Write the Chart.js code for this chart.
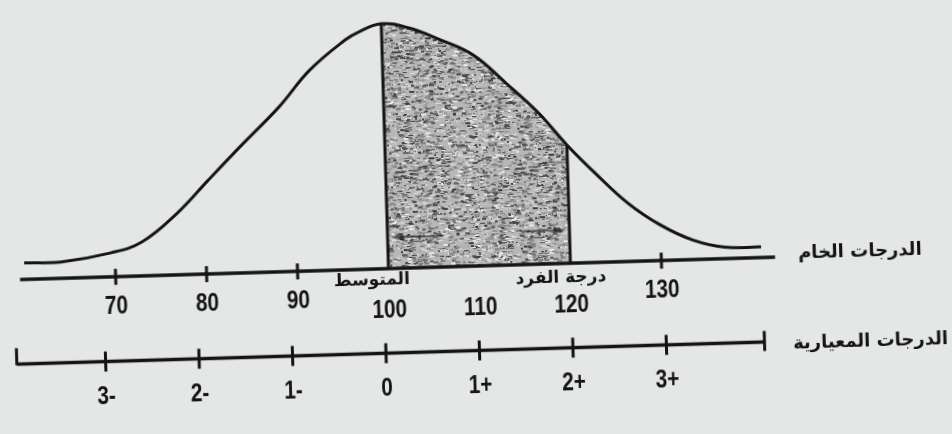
<!DOCTYPE html>
<html lang="ar">
<head>
<meta charset="utf-8">
<title>المنحنى الاعتدالي</title>
<script src="https://cdn.jsdelivr.net/npm/chart.js@4.4.1/dist/chart.umd.min.js"></script>
<style>
  html, body { margin: 0; padding: 0; background: #e4e7e6; overflow: hidden; }
  /* the scanned page sits a little askew */
  #curve-chart { display: block; transform: rotate(-1.7deg); }
</style>
</head>
<body>
<canvas id="curve-chart" width="952" height="434"></canvas>
<script>
// raw scores along the drawn curve and its height there (% of the peak)
const rawScores = [60, 64, 69.5, 73, 77, 80.5, 84.5, 88.5, 92, 96, 97.5, 100, 103, 106.5, 110, 113.5, 117, 120, 123, 126.5, 130, 133.5, 137, 141];
const curveHeight = [2.8, 2.7, 5.9, 10.2, 22.1, 35.7, 51.0, 65.9, 81.2, 93.6, 96.8, 100, 97.9, 92.3, 85.5, 73.2, 60.0, 46.1, 33.8, 20.6, 10.9, 4.1, 0.6, 0.3];

const rawTicks = [70, 80, 90, 100, 110, 120, 130];
const rawTickLabels = ['70', '80', '90', '100', '110', '120', '130'];
const zTicks = [-3, -2, -1, 0, 1, 2, 3];
const zTickLabels = ['3-', '2-', '1-', '0', '1+', '2+', '3+'];

const meanScore = 100;
const studentScore = 120;

const rawAxisTitle = 'الدرجات الخام';
const zAxisTitle = 'الدرجات المعيارية';
const meanLabel = 'المتوسط';
const studentLabel = 'درجة الفرد';

// drawing constants
const INK = '#141414';
const PAPER = '#e4e7e6';
const RAW_AXIS_Y = -4.3;     // in curve-height units
const Z_AXIS_Y = -40.2;
const NUM_FONT = "bold 26px 'Liberation Sans', Arial, sans-serif";
const AR_FONT = "bold 18px 'DejaVu Sans', sans-serif";

const el = document.getElementById('curve-chart');
const ctx0 = el.getContext('2d');

// grainy grey like the printed screen tone
function speckle() {
  const c = document.createElement('canvas');
  c.width = 120; c.height = 120;
  const g = c.getContext('2d');
  g.fillStyle = '#b6b7b6';
  g.fillRect(0, 0, 120, 120);
  let seed = 11;
  const next = () => (seed = (seed * 16807) % 2147483647) / 2147483647;
  for (let i = 0; i < 2400; i++) {
    const v = Math.floor(60 + next() * 180);
    g.fillStyle = 'rgb(' + v + ',' + v + ',' + v + ')';
    g.fillRect(Math.floor(next() * 120), Math.floor(next() * 120), 2 + Math.floor(next() * 4), 1 + Math.floor(next() * 2));
  }
  return ctx0.createPattern(c, 'repeat');
}

const curvePts = rawScores.map((x, i) => ({ x, y: curveHeight[i] }));
const shadePts = curvePts.filter(p => p.x >= meanScore && p.x <= studentScore);
const heightAt = v => curveHeight[rawScores.indexOf(v)];

function arrowHead(ctx, x, y, dir) {
  ctx.beginPath();
  ctx.moveTo(x, y);
  ctx.lineTo(x - dir * 12, y - 4);
  ctx.lineTo(x - dir * 12, y + 4);
  ctx.closePath();
  ctx.fill();
}

// condensed numerals, like the printed figure
function numText(ctx, s, px, py) {
  ctx.save();
  ctx.translate(px, py);
  ctx.scale(0.8, 1);
  ctx.fillText(s, 0, 0);
  ctx.restore();
}

const sketchAxes = {
  id: 'sketchAxes',
  beforeDraw(chart) {
    const { ctx, width, height } = chart;
    ctx.save();
    ctx.fillStyle = PAPER;
    ctx.fillRect(0, 0, width, height);
    ctx.restore();
  },
  afterDatasetsDraw(chart) {
    const { ctx } = chart;
    const x = chart.scales.x, y = chart.scales.y, xz = chart.scales.xz;
    const rawY = y.getPixelForValue(RAW_AXIS_Y);
    const zY = y.getPixelForValue(Z_AXIS_Y);
    ctx.save();
    ctx.strokeStyle = INK;
    ctx.fillStyle = INK;

    // faint arrow across the shaded part
    ctx.save();
    ctx.strokeStyle = 'rgba(30,30,30,0.65)';
    ctx.fillStyle = 'rgba(30,30,30,0.65)';
    ctx.lineWidth = 2;
    const ay = y.getPixelForValue(9);
    const a0 = x.getPixelForValue(meanScore) + 4, a1 = x.getPixelForValue(studentScore) - 4;
    ctx.beginPath(); ctx.moveTo(a0 + 8, ay); ctx.lineTo(a0 + 52, ay); ctx.stroke();
    ctx.beginPath(); ctx.moveTo(a1 - 44, ay - 2); ctx.lineTo(a1 - 8, ay - 2); ctx.stroke();
    arrowHead(ctx, a0, ay, -1);
    arrowHead(ctx, a1, ay - 2, 1);
    ctx.restore();

    // edges of the shaded area
    ctx.lineWidth = 3;
    [meanScore, studentScore].forEach(v => {
      const px = x.getPixelForValue(v);
      ctx.beginPath();
      ctx.moveTo(px, y.getPixelForValue(heightAt(v)));
      ctx.lineTo(px, rawY);
      ctx.stroke();
    });

    // raw score axis
    const rawL = x.getPixelForValue(59.5), rawR = x.getPixelForValue(142.5);
    ctx.lineWidth = 3.5;
    ctx.beginPath(); ctx.moveTo(rawL, rawY); ctx.lineTo(rawR, rawY); ctx.stroke();
    ctx.lineWidth = 3;
    ctx.font = NUM_FONT;
    ctx.textAlign = 'center';
    ctx.textBaseline = 'middle';
    rawTicks.forEach((v, i) => {
      const px = x.getPixelForValue(v);
      const inside = v >= meanScore && v <= studentScore;
      if (!inside) {
        ctx.beginPath(); ctx.moveTo(px, rawY - 8); ctx.lineTo(px, rawY + 8); ctx.stroke();
      }
      numText(ctx, rawTickLabels[i], px, rawY + (inside ? 42 : 30));
    });

    // standard score axis
    const zL = xz.getPixelForValue(-3.95), zR = xz.getPixelForValue(4.05);
    ctx.lineWidth = 3.5;
    ctx.beginPath(); ctx.moveTo(zL, zY); ctx.lineTo(zR, zY); ctx.stroke();
    ctx.lineWidth = 3;
    ctx.beginPath(); ctx.moveTo(zL, zY + 1); ctx.lineTo(zL, zY - 16); ctx.stroke();
    ctx.beginPath(); ctx.moveTo(zR, zY + 9); ctx.lineTo(zR, zY - 11); ctx.stroke();
    zTicks.forEach((v, i) => {
      const px = xz.getPixelForValue(v);
      ctx.beginPath(); ctx.moveTo(px, zY - 10); ctx.lineTo(px, zY + 10); ctx.stroke();
      numText(ctx, zTickLabels[i], px, zY + 35);
    });

    // arabic captions
    ctx.font = AR_FONT;
    ctx.direction = 'rtl';
    ctx.fillText(rawAxisTitle, rawR + 85, rawY - 3);
    ctx.fillText(zAxisTitle, zR + 106, zY + 3);
    ctx.font = "bold 17px 'DejaVu Sans', sans-serif";
    ctx.fillText(meanLabel, x.getPixelForValue(meanScore) - 17, rawY + 11);
    ctx.fillText(studentLabel, x.getPixelForValue(studentScore) - 10, rawY + 14);
    ctx.restore();
  }
};

const chart = new Chart(el, {
  type: 'line',
  data: {
    datasets: [
      {
        label: 'shade',
        data: shadePts,
        xAxisID: 'x',
        yAxisID: 'y',
        fill: { value: RAW_AXIS_Y },
        backgroundColor: speckle(),
        borderWidth: 0,
        pointRadius: 0,
        tension: 0.4,
        order: 2,
      },
      {
        label: 'curve',
        data: curvePts,
        xAxisID: 'x',
        yAxisID: 'y',
        fill: false,
        borderColor: INK,
        borderWidth: 3,
        pointRadius: 0,
        tension: 0.4,
        order: 1,
      },
    ],
  },
  options: {
    responsive: false,
    animation: false,
    devicePixelRatio: 1,
    layout: { padding: 0, autoPadding: false },
    plugins: { legend: { display: false }, tooltip: { enabled: false } },
    scales: {
      x: { type: 'linear', min: 57.47, max: 162.09, display: false },
      xz: { type: 'linear', axis: 'x', min: -4.0856, max: 6.0963, display: false },
      y: { type: 'linear', min: -75.74, max: 108.94, display: false },
    },
  },
  plugins: [sketchAxes],
});
</script>
</body>
</html>
